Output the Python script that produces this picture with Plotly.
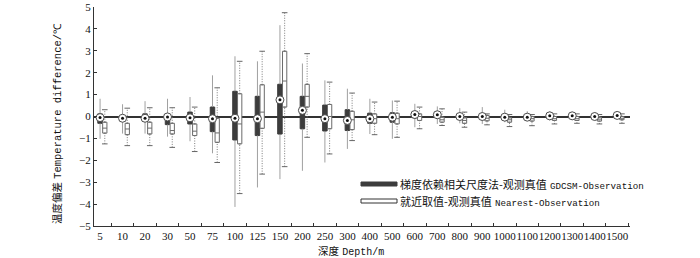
import plotly.graph_objects as go

depths = ["5", "10", "20", "30", "50", "75", "100", "125", "150", "200", "250", "300",
          "400", "500", "600", "700", "800", "900", "1000", "1100", "1200", "1300", "1400", "1500"]

# GDCSM - Observation (dark boxes)
gd_q1 = [-0.31, -0.15, -0.18, -0.37, -0.34, -0.69, -1.07, -0.87, -0.80, -0.56, -0.66, -0.64,
         -0.31, -0.26, -0.06, -0.03, -0.06, -0.08, -0.08, -0.07, -0.06, -0.06, -0.06, -0.05]
gd_q3 = [0.12, 0.05, 0.12, 0.05, 0.20, 0.43, 1.15, 0.92, 1.47, 0.92, 0.52, 0.31,
         0.15, 0.17, 0.20, 0.15, 0.09, 0.08, 0.06, 0.06, 0.08, 0.08, 0.06, 0.08]
gd_lo = [-1.02, -0.78, -0.78, -0.92, -1.13, -1.68, -4.13, -3.24, -2.86, -2.48, -2.10, -1.48,
         -0.80, -1.02, -0.49, -0.34, -0.31, -0.34, -0.26, -0.21, -0.18, -0.15, -0.15, -0.12]
gd_hi = [0.81, 0.56, 0.70, 0.81, 0.89, 1.88, 2.75, 2.52, 4.17, 2.42, 1.65, 1.27,
         0.81, 0.73, 0.58, 0.46, 0.38, 0.43, 0.31, 0.24, 0.24, 0.22, 0.20, 0.20]
gd_mean = [-0.05, -0.08, -0.08, -0.02, -0.06, -0.10, -0.08, -0.10, 0.76, 0.28, -0.10, -0.18,
           -0.10, -0.03, 0.09, 0.08, 0.00, 0.00, -0.03, -0.03, 0.03, 0.03, 0.00, 0.05]

# Nearest - Observation (white boxes)
nr_q1 = [-0.76, -0.83, -0.80, -0.80, -0.87, -1.18, -1.25, -0.54, 0.43, 0.43, -0.56, -0.60,
         -0.31, -0.34, -0.18, -0.26, -0.31, -0.20, -0.26, -0.21, -0.18, -0.18, -0.21, -0.15]
nr_med = [-0.53, -0.57, -0.53, -0.64, -0.67, -0.75, -0.34, 0.20, 1.62, 0.92, 0.00, -0.15,
          -0.10, -0.10, 0.00, -0.15, -0.18, -0.08, -0.15, -0.10, -0.10, -0.10, -0.12, -0.08]
nr_q3 = [-0.26, -0.31, -0.26, -0.31, -0.34, -0.08, 1.04, 1.45, 2.98, 1.47, 0.55, 0.24,
         0.12, 0.15, 0.12, -0.03, -0.06, 0.05, -0.06, 0.00, 0.00, 0.00, -0.03, 0.00]
nr_lo = [-1.25, -1.33, -1.33, -1.41, -1.60, -2.10, -3.52, -2.63, -2.29, -0.95, -1.71, -1.10,
         -0.83, -0.95, -0.56, -0.41, -0.49, -0.38, -0.46, -0.42, -0.34, -0.31, -0.34, -0.31]
nr_hi = [0.31, 0.38, 0.40, 0.40, 0.43, 1.31, 2.52, 2.98, 4.74, 2.87, 1.57, 1.07,
         0.66, 0.70, 0.43, 0.35, 0.20, 0.12, 0.09, 0.09, 0.12, 0.12, 0.09, 0.12]

legend_gd = "梯度依赖相关尺度法-观测真值"
legend_gd_en = "GDCSM-Observation"
legend_nr = "就近取值-观测真值"
legend_nr_en = "Nearest-Observation"

DARK = "#3c3c3c"
OFF_NR = 0.21
idx = list(range(len(depths)))
x_gd = [i for i in idx]
x_nr = [i + OFF_NR for i in idx]


def whisker_xy(xs, lo, q1, q3, hi):
    wx, wy = [], []
    for x, a, b, c, d in zip(xs, lo, q1, q3, hi):
        wx += [x, x, None, x, x, None]
        wy += [a, b, None, c, d, None]
    return wx, wy


fig = go.Figure()

# whiskers
wx, wy = whisker_xy(x_gd, gd_lo, gd_q1, gd_q3, gd_hi)
fig.add_trace(go.Scatter(x=wx, y=wy, mode="lines", line=dict(color="#a0a0a0", width=1),
                         hoverinfo="skip", showlegend=False))
wx, wy = whisker_xy(x_nr, nr_lo, nr_q1, nr_q3, nr_hi)
fig.add_trace(go.Scatter(x=wx, y=wy, mode="lines",
                         line=dict(color="#7a7a7a", width=1, dash="1px,1.5px"),
                         hoverinfo="skip", showlegend=False))
# caps for nearest whiskers
fig.add_trace(go.Scatter(x=x_nr + x_nr, y=nr_lo + nr_hi, mode="markers",
                         marker=dict(symbol="line-ew", size=4, line=dict(color="#666", width=1)),
                         hoverinfo="skip", showlegend=False))

# boxes
fig.add_trace(go.Box(x=x_gd, q1=gd_q1, median=gd_mean, q3=gd_q3,
                     lowerfence=gd_q1, upperfence=gd_q3, width=0.2,
                     fillcolor=DARK, line=dict(color=DARK, width=1),
                     name=legend_gd + " " + legend_gd_en, showlegend=False))
fig.add_trace(go.Box(x=x_nr, q1=nr_q1, median=nr_med, q3=nr_q3,
                     lowerfence=nr_q1, upperfence=nr_q3, width=0.19,
                     fillcolor="white", line=dict(color="#6a6a6a", width=1),
                     name=legend_nr + " " + legend_nr_en, showlegend=False))

# circle-dot markers
fig.add_trace(go.Scatter(x=x_gd, y=gd_mean, mode="markers",
                         marker=dict(symbol="circle", size=8, color="white",
                                     line=dict(color="#4a4a4a", width=1)),
                         hoverinfo="skip", showlegend=False))
fig.add_trace(go.Scatter(x=x_gd, y=gd_mean, mode="markers",
                         marker=dict(symbol="circle", size=3, color="#111"),
                         hoverinfo="skip", showlegend=False))

# plot area in pixels: x 94..630, y 7..226
L, R, T, B = 94, 630, 7, 226
W, H = R - L, B - T


def px(xp):
    return (xp - L) / W


def py(yp):
    return (B - yp) / H


# manual legend
fig.add_shape(type="rect", xref="paper", yref="paper", x0=px(361), x1=px(397),
              y0=py(186), y1=py(182), fillcolor=DARK, line=dict(color=DARK, width=1))
fig.add_shape(type="rect", xref="paper", yref="paper", x0=px(361), x1=px(397),
              y0=py(203), y1=py(199), fillcolor="white", line=dict(color="#333", width=1))

CJK = "Noto Sans CJK SC"
MONO = "Liberation Mono"


def mixed(cn, en, cn_size, en_size):
    return (f'<span style="font-family:{CJK};font-size:{cn_size}px">{cn}</span>'
            f' <span style="font-family:{MONO};font-size:{en_size}px">{en}</span>')


fig.add_annotation(xref="paper", yref="paper", x=px(398), y=py(184), xanchor="left",
                   yanchor="middle", showarrow=False,
                   text=mixed(legend_gd, legend_gd_en, 11, 9.2), font=dict(color="#111"))
fig.add_annotation(xref="paper", yref="paper", x=px(398), y=py(201), xanchor="left",
                   yanchor="middle", showarrow=False,
                   text=mixed(legend_nr, legend_nr_en, 11, 9.2), font=dict(color="#111"))

# axis titles
fig.add_annotation(xref="paper", yref="paper", x=px(56), y=py(124), xanchor="center",
                   yanchor="middle", showarrow=False, textangle=-90,
                   text=mixed("温度偏差", "Temperature difference/℃", 10.5, 10.5),
                   font=dict(color="#111"))
fig.add_annotation(xref="paper", yref="paper", x=px(351), y=py(250.5), xanchor="center",
                   yanchor="middle", showarrow=False,
                   text=mixed("深度", "Depth/m", 10.5, 10), font=dict(color="#111"))

tickfont = dict(family="Liberation Serif", size=11, color="#111")
fig.update_xaxes(range=[-0.27, 23.57], tickmode="array", tickvals=idx, ticktext=depths,
                 ticks="", tickangle=0, tickfont=tickfont, showline=True, linecolor="#333",
                 linewidth=1, showgrid=False, zeroline=False, automargin=False,
                 minor=dict(tickmode="array", tickvals=[i + 0.5 for i in idx], ticks="inside",
                            ticklen=3, tickcolor="#333", tickwidth=1, showgrid=False))
fig.update_yaxes(range=[-5, 5], tickmode="linear", tick0=0, dtick=1, ticks="inside",
                 ticklen=3, tickcolor="#333", tickfont=tickfont, showline=True,
                 linecolor="#333", linewidth=1, showgrid=False, zeroline=True,
                 zerolinecolor="#333", zerolinewidth=2, automargin=False)

fig.update_layout(width=700, height=258, margin=dict(l=L, r=700 - R, t=T, b=258 - B),
                  plot_bgcolor="white", paper_bgcolor="white", showlegend=False,
                  boxmode="overlay")

fig.write_html("out.html", config={"displayModeBar": False},
               post_script="document.body.style.margin='0';")
